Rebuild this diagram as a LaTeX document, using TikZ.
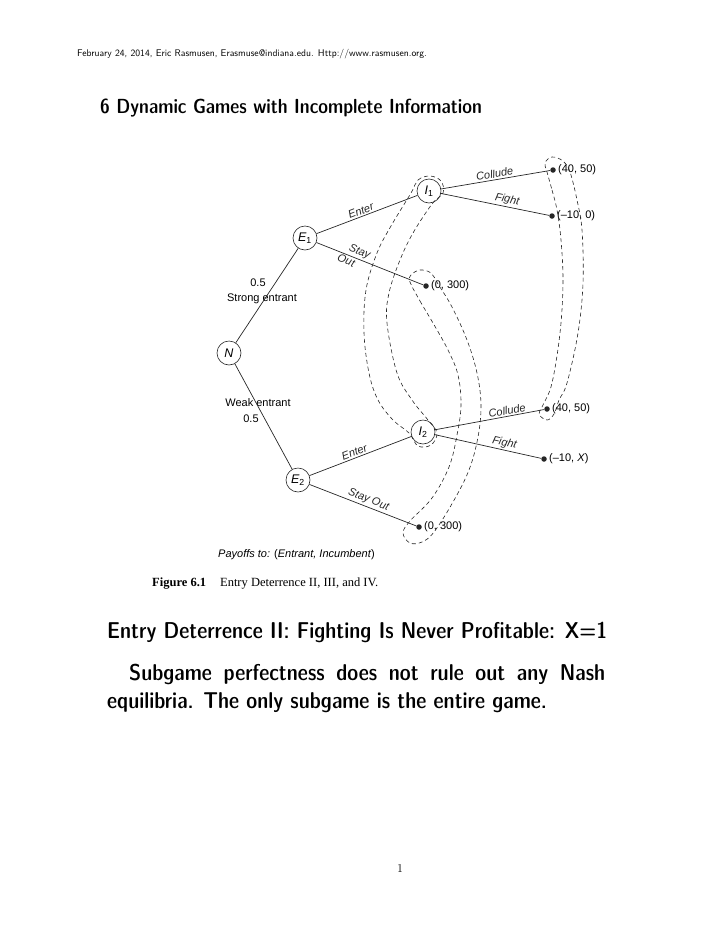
\documentclass[tikz,border=0pt]{standalone}
\usepackage{fontspec}
\usetikzlibrary{positioning}
\newfontfamily\figsans{Liberation Sans}
\newfontfamily\figserif{Liberation Serif}
\newcommand{\figfont}{\figsans\fontsize{11}{13}\selectfont}
\newcommand{\demisans}{\fontfamily{lmss}\fontseries{sbc}\selectfont}

\begin{document}
\begin{tikzpicture}[x=1pt, y=-1pt,
  player/.style={circle, draw=black!85, line width=0.6pt, minimum size=24pt, inner sep=0pt, font=\figsans\fontsize{12.5}{14}\selectfont\itshape},
  payoff/.style={circle, fill=black!85, inner sep=0pt, minimum size=5.5pt, label={[font=\figfont, inner sep=2pt]right:#1}},
  move/.style={font=\figfont\itshape, sloped, inner sep=1.5pt},
  prob/.style={font=\figfont, inner sep=0pt},
  branch/.style={line width=0.7pt, black!85},
  infoset/.style={black!85, line width=0.6pt, dash pattern=on 4pt off 3pt},
  txt/.style={anchor=base west, inner sep=0pt}
]
  \useasboundingbox (0,0) rectangle (720,932);

  \node[txt, font=\sffamily\fontsize{9.65}{12}\selectfont] (head) at (77,56) {February 24, 2014, Eric Rasmusen, Erasmuse@indiana.edu. Http://www.rasmusen.org.};
  \node[txt, font=\demisans\fontsize{20.4}{24}\selectfont] (title) at (100,113) {6 Dynamic Games with Incomplete Information};

  \node[player] (N) at (229,353) {N};
  \node[player] (E1) at (305,238) {E\textsubscript{\upshape 1}};
  \node[player] (E2) at (298,480) {E\textsubscript{\upshape 2}};
  \node[player] (I1) at (429,191) {I\textsubscript{\upshape 1}};
  \node[player] (I2) at (423,432) {I\textsubscript{\upshape 2}};

  \node[payoff={(40, 50)}] (sc) at (553,170) {};
  \node[payoff={(–10, 0)}] (sf) at (552,216) {};
  \node[payoff={(0, 300)}] (so) at (426,286) {};
  \node[payoff={(40, 50)}] (wc) at (547,409) {};
  \node[payoff={(–10, \textit{X})}] (wf) at (544,459) {};
  \node[payoff={(0, 300)}] (wo) at (419,527) {};

  \node[prob] (sp) at (258,283) {0.5};
  \node[prob] (sl) at (262,299) {Strong entrant};
  \node[prob] (wl) at (258,403) {Weak entrant};
  \node[prob] (wp) at (251,419) {0.5};

  \draw[branch] (N) -- (E1);
  \draw[branch] (N) -- (E2);
  \draw[branch] (E1) -- node[move, above, pos=0.46] {Enter} (I1);
  \draw[branch] (E1) -- node[move, above, pos=0.38] {Stay} node[move, below, pos=0.3] {Out} (so);
  \draw[branch] (I1) -- node[move, above, pos=0.5] {Collude} (sc);
  \draw[branch] (I1) -- node[move, above, pos=0.6] {Fight} (sf);
  \draw[branch] (E2) -- node[move, above, pos=0.46] {Enter} (I2);
  \draw[branch] (E2) -- node[move, above, pos=0.53] {Stay Out} (wo);
  \draw[branch] (I2) -- node[move, above, pos=0.67] {Collude} (wc);
  \draw[branch] (I2) -- node[move, above, pos=0.64] {Fight} (wf);

  \draw[infoset] plot[smooth cycle, tension=0.6] coordinates {
    (411,193) (418,180) (430,176) (441,181) (443,193) (432,204) (413,233) (400,260)
    (389,293) (387,323) (397,373) (412,400) (428,420) (437,433) (431,445) (418,446)
    (409,433) (393,420) (378,400) (369,373) (364,333) (366,290) (377,253) (391,226)};
  \draw[infoset] plot[smooth cycle, tension=0.6] coordinates {
    (410,282) (420,301) (433,323) (448,350) (458,375) (461,405) (457,435) (449,467)
    (432,498) (410,521) (403,533) (410,543) (422,542) (434,532) (453,502) (469,470)
    (478,437) (481,405) (477,373) (467,340) (452,307) (438,284) (431,273) (420,270) (411,275)};
  \draw[infoset] plot[smooth cycle, tension=0.6] coordinates {
    (547,172) (552,190) (557,210) (561,240) (563,283) (560,333) (552,383) (543,405)
    (539,414) (547,420) (554,414) (559,400) (567,383) (578,333) (583,283) (582,230)
    (577,200) (570,172) (563,161) (552,157) (545,163)};

  \node[txt, font=\figfont] (key) at (218,557) {\textit{Payoffs to:} (\textit{Entrant, Incumbent})};
  \node[txt, font=\figserif\fontsize{12.5}{15}\selectfont] (cap) at (152,586) {\textbf{Figure 6.1}\hspace{14pt}Entry Deterrence II, III, and IV.};

  \node[txt, font=\demisans\fontsize{22.9}{27}\selectfont] (sect) at (107,638) {Entry Deterrence II: Fighting Is Never Profitable: X=1};
  \node[txt, font=\demisans\fontsize{22.9}{27}\selectfont] (line1) at (129,680) {\makebox[476pt][s]{Subgame perfectness does not rule out any Nash}};
  \node[txt, font=\demisans\fontsize{22.9}{27}\selectfont] (line2) at (107,708) {equilibria. The only subgame is the entire game.};

  \node[anchor=base, inner sep=0pt, font=\rmfamily\fontsize{12}{14}\selectfont] (page) at (400,872) {1};
\end{tikzpicture}
\end{document}
